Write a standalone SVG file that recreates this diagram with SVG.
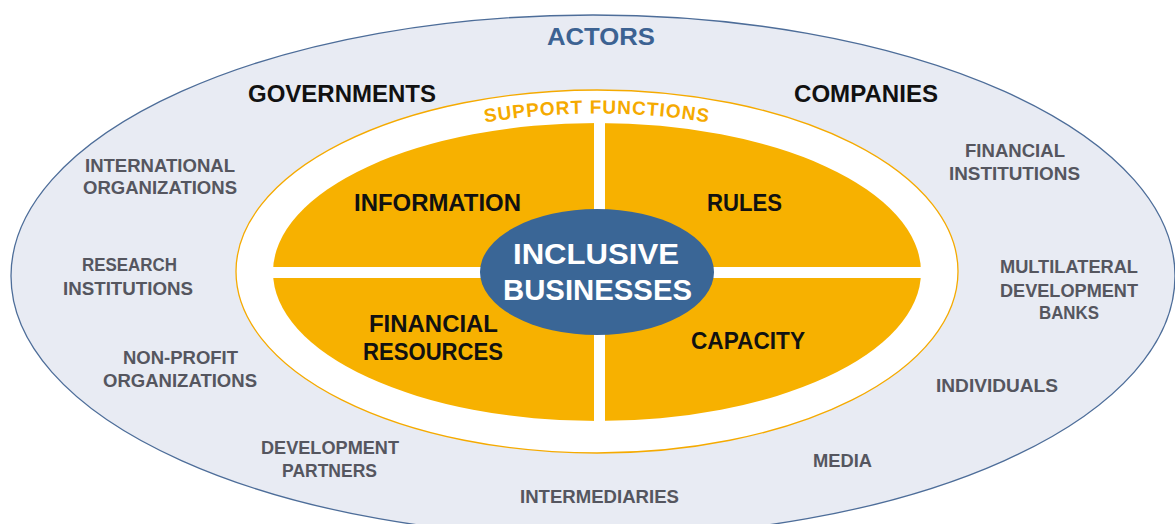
<svg xmlns="http://www.w3.org/2000/svg" xmlns:xlink="http://www.w3.org/1999/xlink" width="1175" height="524" viewBox="0 0 1175 524">
  <style>
    .t { font-family: "Liberation Sans", Arial, sans-serif; font-weight: 700; text-anchor: middle; }
    .actor { fill: #55565f; font-size: 19px; }
    .key { fill: #111111; font-size: 23px; }
    .func { fill: #111111; font-size: 23px; }
    .core { fill: #ffffff; font-size: 29px; }
    .title { fill: #3c6292; font-size: 23px; }
    .sf { fill: #f5aa00; font-size: 19px; letter-spacing: 1px; }
  </style>
  <defs>
    <path id="sfArc" d="M 262 271.5 A 335 158 0 0 1 932 271.5"/>
  </defs>
  <rect width="1175" height="524" fill="#ffffff"/>

  <g id="actors-ring">
    <ellipse cx="593" cy="276" rx="582" ry="261" fill="#e8ebf3" stroke="#4d6d99" stroke-width="1.3"/>
    <text class="t title" x="601" y="45" textLength="108" lengthAdjust="spacingAndGlyphs">ACTORS</text>
  </g>

  <g id="support-functions">
    <ellipse cx="597" cy="271.5" rx="361" ry="181.5" fill="#ffffff" stroke="#f5aa00" stroke-width="1.3"/>
    <text class="t sf"><textPath xlink:href="#sfArc" href="#sfArc" startOffset="50%">SUPPORT FUNCTIONS</textPath></text>
  </g>

  <g id="quadrants">
    <ellipse cx="597" cy="272" rx="324" ry="149" fill="#f7b100"/>
    <rect x="594" y="115" width="11" height="315" fill="#ffffff"/>
    <rect x="262" y="267" width="670" height="11" fill="#ffffff"/>
  </g>

  <g id="information">
    <text class="t func" x="437.5" y="211" textLength="167" lengthAdjust="spacingAndGlyphs">INFORMATION</text>
  </g>
  <g id="rules">
    <text class="t func" x="744.5" y="211" textLength="75" lengthAdjust="spacingAndGlyphs">RULES</text>
  </g>
  <g id="financial-resources">
    <text class="t func" x="433.5" y="332" textLength="129" lengthAdjust="spacingAndGlyphs">FINANCIAL</text>
    <text class="t func" x="433" y="360" textLength="140" lengthAdjust="spacingAndGlyphs">RESOURCES</text>
  </g>
  <g id="capacity">
    <text class="t func" x="748" y="349" textLength="114" lengthAdjust="spacingAndGlyphs">CAPACITY</text>
  </g>

  <g id="inclusive-businesses">
    <ellipse cx="597" cy="272" rx="117" ry="63" fill="#3a6696"/>
    <text class="t core" x="596" y="264" textLength="166" lengthAdjust="spacingAndGlyphs">INCLUSIVE</text>
    <text class="t core" x="597.5" y="300" textLength="189" lengthAdjust="spacingAndGlyphs">BUSINESSES</text>
  </g>

  <g id="governments">
    <text class="t key" x="342" y="102" textLength="188" lengthAdjust="spacingAndGlyphs">GOVERNMENTS</text>
  </g>
  <g id="companies">
    <text class="t key" x="866" y="102" textLength="144" lengthAdjust="spacingAndGlyphs">COMPANIES</text>
  </g>
  <g id="international-organizations">
    <text class="t actor" x="160" y="172" textLength="150" lengthAdjust="spacingAndGlyphs">INTERNATIONAL</text>
    <text class="t actor" x="160" y="194" textLength="154" lengthAdjust="spacingAndGlyphs">ORGANIZATIONS</text>
  </g>
  <g id="research-institutions">
    <text class="t actor" x="129.5" y="271" textLength="95" lengthAdjust="spacingAndGlyphs">RESEARCH</text>
    <text class="t actor" x="128" y="295" textLength="130" lengthAdjust="spacingAndGlyphs">INSTITUTIONS</text>
  </g>
  <g id="non-profit-organizations">
    <text class="t actor" x="180.5" y="364" textLength="115" lengthAdjust="spacingAndGlyphs">NON-PROFIT</text>
    <text class="t actor" x="180" y="387" textLength="154" lengthAdjust="spacingAndGlyphs">ORGANIZATIONS</text>
  </g>
  <g id="development-partners">
    <text class="t actor" x="330" y="454" textLength="138" lengthAdjust="spacingAndGlyphs">DEVELOPMENT</text>
    <text class="t actor" x="329.5" y="477" textLength="95" lengthAdjust="spacingAndGlyphs">PARTNERS</text>
  </g>
  <g id="intermediaries">
    <text class="t actor" x="599.5" y="503" textLength="159" lengthAdjust="spacingAndGlyphs">INTERMEDIARIES</text>
  </g>
  <g id="media">
    <text class="t actor" x="842.5" y="467" textLength="59" lengthAdjust="spacingAndGlyphs">MEDIA</text>
  </g>
  <g id="individuals">
    <text class="t actor" x="997" y="392" textLength="122" lengthAdjust="spacingAndGlyphs">INDIVIDUALS</text>
  </g>
  <g id="multilateral-development-banks">
    <text class="t actor" x="1069" y="273" textLength="138" lengthAdjust="spacingAndGlyphs">MULTILATERAL</text>
    <text class="t actor" x="1069" y="297" textLength="138" lengthAdjust="spacingAndGlyphs">DEVELOPMENT</text>
    <text class="t actor" x="1069" y="319" textLength="60" lengthAdjust="spacingAndGlyphs">BANKS</text>
  </g>
  <g id="financial-institutions">
    <text class="t actor" x="1015" y="157" textLength="100" lengthAdjust="spacingAndGlyphs">FINANCIAL</text>
    <text class="t actor" x="1014.5" y="180" textLength="131" lengthAdjust="spacingAndGlyphs">INSTITUTIONS</text>
  </g>

  <g id="connectors"></g>
</svg>
